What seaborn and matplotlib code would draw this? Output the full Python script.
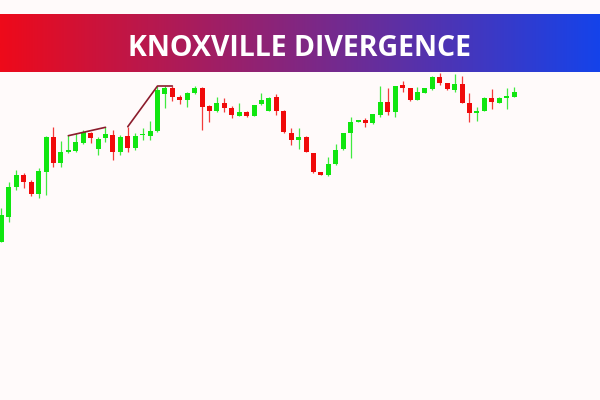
import numpy as np
import pandas as pd
import seaborn as sns
import matplotlib.pyplot as plt
from matplotlib.colors import LinearSegmentedColormap

# OHLC values (arbitrary price units)
opens = [158, 183.3, 213.3, 225, 218.3, 206, 228.3, 263.3, 236.7, 248.3,
         249, 257.3, 266.7, 250.7, 261.7, 265, 248.3, 264, 252.3, 264.7,
         264, 269, 306, 312.3, 303.3, 300, 306.7, 312.3, 294, 289,
         297.3, 292.3, 284.3, 287.7, 284.3, 295.7, 289.3, 303.3, 289.3, 267.3,
         260, 263.3, 246.7, 228.3, 225, 235.7, 250.7, 266.7, 278.3, 280,
         276.7, 285, 297.7, 288.3, 315, 311.7, 300.5, 307.3, 311, 323,
         316.7, 310, 316, 297.5, 287.3, 289.3, 302.5, 297.5, 302.5, 303.3]
highs = [192, 218, 230, 227, 220, 232, 264, 273.3, 259.3, 265,
         267, 270, 268, 263.3, 272.7, 270, 265, 272.7, 266.7, 271.7,
         279, 314, 314, 314, 305, 308, 314, 313, 295, 303.3,
         301.7, 294, 296.7, 289, 295, 306.7, 303, 305.7, 290, 272.3,
         271.7, 264, 247, 228.5, 243, 255.7, 267, 283.3, 280, 282.3,
         286, 314, 311.7, 314.5, 319, 312.5, 313.3, 312, 324, 327,
         317, 326, 324, 307, 293.3, 303, 311, 303, 311.7, 313.5]
lows = [158, 178.3, 210, 211.7, 204, 201.7, 205, 233.3, 233.3, 247.5,
        248, 256.5, 256.7, 245, 258.3, 240, 245, 248.3, 250, 260,
        260, 268.5, 291.7, 299, 296, 293.3, 306, 270, 278.3, 288,
        288.3, 282.3, 284, 283.5, 284, 295, 289, 285, 267.5, 255,
        251, 248, 226.7, 224.7, 224.5, 235, 250, 242, 278, 272.7,
        276, 283, 285, 283.3, 308.3, 299.5, 300, 307, 310.5, 315,
        310.5, 308.3, 297, 278.3, 279, 289, 291, 297, 291.2, 303]
closes = [185, 213.3, 225, 218.3, 206, 229.3, 263.3, 237.3, 248.3, 249.5,
          258.3, 267.7, 261.7, 260.7, 265.7, 248.3, 262.7, 251.7, 264.3, 265.7,
          269, 310, 312.3, 303.3, 300, 306.7, 312.3, 293.3, 289.3, 297.3,
          292.3, 285, 287.7, 284.3, 295, 300, 302.3, 289.3, 267.7, 260,
          262.7, 248.3, 228.3, 225, 235.7, 250, 266.7, 278.3, 280, 276.7,
          285.7, 297.7, 288.3, 314.3, 312.3, 300.5, 308.3, 312, 323.3, 316.7,
          311, 316, 297.5, 287.5, 289.3, 302.5, 297.7, 302.5, 304.3, 308]

# divergence lines: candle index and price
div1_idx = [9, 14]
div1_price = [264.3, 272.7]
div2_idx = [17, 21, 23]
div2_price = [273.3, 314, 314]

title = "KNOXVILLE DIVERGENCE"

bg = "#fffafa"
green = "#10e610"
red = "#f00a0a"
line_color = "#8b1c2c"

sns.set_theme(style="white")
plt.rcParams["font.family"] = ["Open Sans", "DejaVu Sans"]

df = pd.DataFrame({"open": opens, "high": highs, "low": lows, "close": closes})
df["idx"] = np.arange(len(df))
df["up"] = df["close"] >= df["open"]
colors = np.where(df["up"], green, red)

# keep doji bodies visible
body = df["close"] - df["open"]
body = np.where(body.abs() < 1.5, np.where(body >= 0, 1.5, -1.5), body)

fig = plt.figure(figsize=(6, 4), dpi=100, facecolor=bg)
ax = fig.add_axes([0, 0, 1, 1])
ax.set_facecolor(bg)

ax.vlines(df["idx"], df["low"], df["high"], colors=colors, linewidth=0.9, alpha=0.8)
ax.bar(df["idx"], body, bottom=df["open"], width=0.67, color=colors, linewidth=0)

sns.lineplot(x=div1_idx, y=div1_price, ax=ax, color=line_color, linewidth=1.2)
sns.lineplot(x=div2_idx, y=div2_price, ax=ax, color=line_color, linewidth=1.2)

ax.set_xlim(-0.2, 80.57)
ax.set_ylim(0, 400)
ax.axis("off")

# gradient banner with title
bax = fig.add_axes([0, 0.82, 1, 0.145])
grad = np.linspace(0, 1, 256).reshape(1, -1)
cmap = LinearSegmentedColormap.from_list("banner", ["#ee0a1a", "#1543ea"])
bax.imshow(grad, aspect="auto", cmap=cmap, extent=[0, 1, 0, 1])
bax.text(0.5, 0.27, title, color="white", fontsize=20.5, fontweight="bold",
         ha="center", va="baseline", transform=bax.transAxes)
bax.set_xlim(0, 1)
bax.set_ylim(0, 1)
bax.axis("off")

fig.savefig("out.png", dpi=100, facecolor=bg)
